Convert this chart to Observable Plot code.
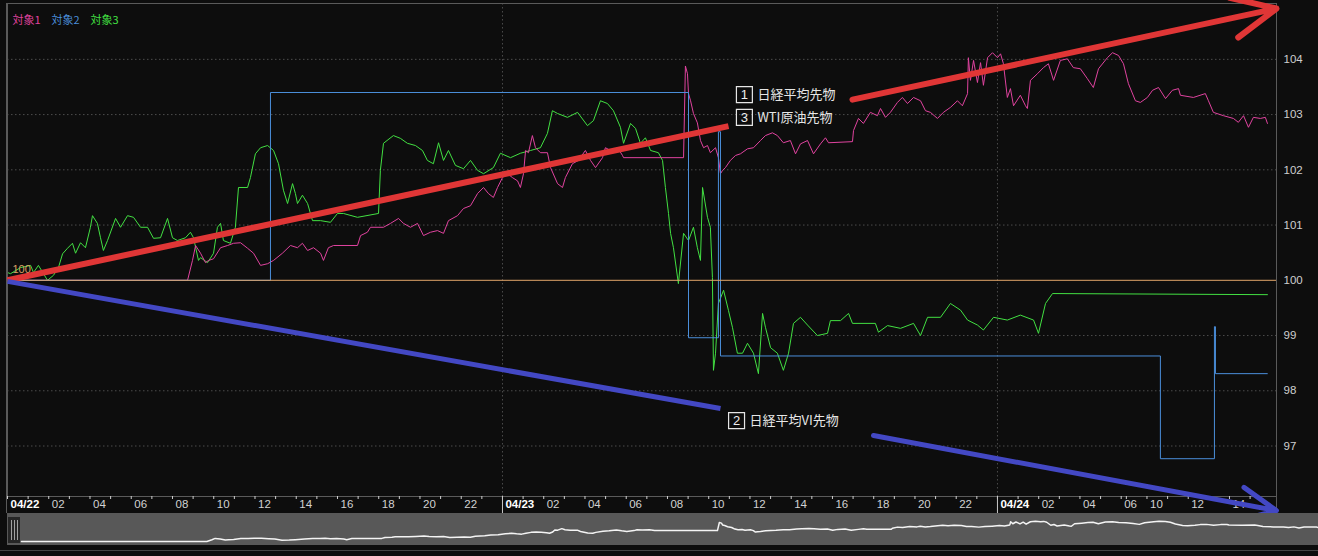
<!DOCTYPE html>
<html>
<head>
<meta charset="utf-8">
<script src="https://cdn.jsdelivr.net/npm/d3@7"></script>
<script src="https://cdn.jsdelivr.net/npm/@observablehq/plot@0.6"></script>
<style>
  html, body { margin: 0; padding: 0; background: #0d0d0d; }
  #wrap { position: relative; width: 1318px; height: 556px; background: #0d0d0d; overflow: hidden; }
  #main { position: absolute; left: 0; top: 0; }
  #nav { position: absolute; left: 7px; top: 513px; }
  .chrome { position: absolute; background: #5a5a5a; }
  #handle { position: absolute; left: 8px; top: 517px; width: 12px; height: 26px; background: #262626; }
  #handle i { position: absolute; top: 3px; width: 1px; height: 20px; background: #a0a0a0; }
</style>
</head>
<body>
<div id="wrap">
  <div class="chrome" style="left:6px;top:3px;width:1px;height:510px;"></div>
  <div class="chrome" style="left:1276px;top:3px;width:1px;height:510px;"></div>
  <div id="main"></div>
  <div id="nav"></div>
  <div id="handle"><i style="left:3px"></i><i style="left:6px"></i><i style="left:9px"></i></div>
  <div class="chrome" style="left:0;top:550px;width:1318px;height:1px;background:#444;"></div>
</div>
<script>
// ---------- data (hours since 04/22 00:00, indexed value, base = 100) ----------
const seriesNames = ["対象1", "対象2", "対象3"];
const seriesColors = ["#e0439f", "#4b8fdb", "#42e042"];

// 対象1 : 日経平均先物
const nikkeiHours = [0,8.73,8.97,9.12,9.36,9.6,9.75,9.99,10.33,10.67,
  10.96,11.3,11.64,11.93,12.27,12.61,12.9,13.33,13.72,14.06,
  14.3,14.55,14.84,15.18,15.32,15.56,15.81,16.97,17.12,17.45,
  17.6,18.23,18.57,18.96,19.2,19.54,19.88,20.17,20.51,20.85,
  21.14,21.38,21.82,22.11,22.45,22.79,23.08,23.32,23.56,23.76,
  24.0,24.24,24.48,24.73,24.87,25.02,25.12,25.26,25.45,25.6,
  25.84,26.18,26.33,26.67,26.91,27.05,27.39,27.68,28.02,28.27,
  28.51,28.85,28.99,29.24,29.58,29.82,29.87,32.78,32.87,32.97,
  33.02,33.12,33.26,33.45,33.6,33.75,33.94,34.08,34.33,34.47,
  34.57,34.67,34.81,35.05,35.3,35.54,35.88,36.17,36.51,36.75,
  37.09,37.33,37.62,37.96,38.21,38.45,38.79,39.08,39.42,39.66,
  39.81,40.97,41.02,41.26,41.5,41.84,42.18,42.33,42.57,42.81,
  43.15,43.39,43.64,43.93,44.27,44.51,44.75,45.09,45.38,45.72,
  46.06,46.3,46.55,46.59,46.69,46.84,47.03,47.18,47.32,47.52,
  47.76,48.0,48.15,48.29,48.48,48.63,48.78,49.11,49.36,49.45,
  49.6,49.94,50.23,50.47,50.72,51.05,51.39,51.68,52.02,52.36,
  52.65,52.9,53.33,53.58,53.87,56.86,57.1,57.44,57.68,58.02,
  58.27,58.56,58.9,59.23,59.53,59.62,60.25,60.83,60.98,61.22,
  61.71,62.19,62.43,62.68,62.92,63.16,63.5,63.74,63.84];
const nikkeiValues = [100.0,100.0,100.36,100.63,100.49,100.32,100.36,100.39,100.59,100.63,
  100.67,100.68,100.58,100.49,100.27,100.30,100.36,100.49,100.63,100.59,
  100.67,100.54,100.59,100.49,100.36,100.59,100.63,100.63,100.81,100.87,
  100.96,100.96,101.03,101.12,101.03,100.96,101.03,100.81,100.87,100.90,
  100.85,101.08,101.17,101.30,101.35,101.57,101.68,101.57,101.50,101.68,
  101.86,101.93,101.86,101.80,101.68,101.93,102.35,102.31,102.62,102.40,
  102.31,102.31,102.04,101.75,101.68,101.86,102.11,102.17,102.35,102.17,
  102.04,102.22,102.40,102.35,102.40,102.26,102.22,102.22,103.88,103.74,
  103.38,103.25,103.02,102.85,102.53,102.40,102.44,102.31,102.40,102.22,
  101.93,101.99,102.04,102.17,102.26,102.29,102.38,102.40,102.53,102.62,
  102.67,102.62,102.49,102.53,102.29,102.47,102.53,102.29,102.47,102.58,
  102.49,102.51,102.71,102.93,102.84,103.04,102.98,103.11,102.95,103.04,
  103.22,103.31,103.20,103.31,103.25,103.07,103.04,102.93,103.04,103.13,
  103.25,103.16,103.38,104.03,103.62,103.98,103.58,103.94,103.53,104.03,
  104.12,104.03,104.10,103.92,103.31,103.47,103.16,103.35,103.16,103.11,
  103.62,103.74,103.85,103.92,103.62,103.98,104.01,103.85,103.83,103.65,
  103.49,103.83,104.03,104.12,104.07,103.92,103.56,103.25,103.22,103.31,
  103.44,103.49,103.29,103.44,103.47,103.35,103.31,103.38,103.25,103.04,
  102.98,102.93,102.86,102.98,102.77,102.95,102.93,102.95,102.84];

// 対象2 : 日経平均VI先物 (step)
const viHours  = [0, 12.75, 33.02, 34.47, 34.57, 58.65, 61.27, 61.32, 63.84];
const viValues = [100.0, 103.40, 98.96, 102.69, 98.63, 96.77, 99.16, 98.31, 98.31];

// 対象3 : WTI原油先物
const wtiHours = [0,0.15,0.63,1.12,1.26,1.5,1.94,2.23,2.47,2.67,
  2.91,3.15,3.3,3.54,3.78,4.02,4.12,4.36,4.51,4.65,
  4.85,5.24,5.48,5.82,6.11,6.45,6.79,7.08,7.42,7.76,
  8.0,8.24,8.63,8.87,9.02,9.26,9.36,9.7,9.99,10.18,
  10.33,10.47,10.81,11.05,11.2,11.64,11.78,12.02,12.27,12.61,
  12.9,13.14,13.38,13.58,13.82,13.96,14.06,14.3,14.55,14.79,
  15.18,15.66,16.0,16.29,16.97,17.99,18.08,18.23,18.71,19.05,
  19.39,19.78,20.12,20.36,20.65,20.9,21.14,21.38,21.72,22.11,
  22.45,22.79,23.08,23.56,23.9,24.39,24.87,25.36,25.84,26.18,
  26.42,26.67,27.15,27.64,28.12,28.41,28.75,29.09,29.38,29.72,
  29.87,30.21,30.45,30.69,30.93,31.18,31.56,31.76,31.9,32.05,
  32.15,32.29,32.53,32.78,33.02,33.26,33.45,33.6,33.7,33.94,
  34.08,34.18,34.23,34.33,34.47,34.72,34.96,35.15,35.39,35.64,
  35.88,36.17,36.41,36.61,36.75,37.0,37.33,37.62,37.87,38.11,
  38.45,38.79,39.27,39.76,39.9,40.39,40.78,40.97,42.08,42.23,
  42.67,43.3,43.93,44.27,44.61,45.24,45.72,46.21,46.55,47.03,
  47.32,47.81,48.48,49.11,49.75,49.99,50.33,50.67,63.84];
const wtiValues = [100.14,100.12,100.23,100.27,100.14,100.27,100.00,100.09,100.23,100.48,
  100.58,100.67,100.49,100.68,100.59,100.96,101.17,101.03,100.77,100.54,
  100.72,101.12,100.96,101.17,101.14,100.96,100.96,100.76,100.77,101.12,
  100.77,100.72,100.77,100.87,100.77,100.36,100.41,100.32,100.49,100.96,
  101.03,100.72,100.67,100.96,101.68,101.68,101.86,102.29,102.40,102.44,
  102.35,102.11,101.63,101.39,101.75,101.57,101.39,101.54,101.39,101.08,
  101.08,101.05,101.21,101.21,101.14,101.21,101.99,102.48,102.62,102.57,
  102.48,102.44,102.35,102.17,102.11,102.49,102.17,102.35,102.08,102.02,
  102.17,101.99,101.93,102.04,102.30,102.22,102.30,102.35,102.40,102.66,
  103.07,103.02,102.95,103.04,102.80,102.89,103.25,103.20,103.07,102.77,
  102.48,102.84,102.75,102.48,102.58,102.35,102.31,102.17,101.68,101.21,
  100.85,100.59,99.94,100.85,100.72,100.96,100.59,100.36,101.68,101.14,
  100.96,100.05,98.37,98.68,99.58,99.82,99.45,99.15,98.68,98.68,
  98.86,98.68,98.31,99.40,99.15,98.78,98.68,98.37,98.68,99.22,
  99.33,99.19,99.00,99.04,99.27,99.27,99.40,99.22,99.22,99.06,
  99.18,99.13,99.22,99.00,99.33,99.33,99.58,99.46,99.28,99.19,
  99.10,99.33,99.28,99.37,99.28,99.04,99.58,99.76,99.74];

// axes
const yTicks = [97, 98, 99, 100, 101, 102, 103, 104];
const baseValue = 100;
const dayHours = [24, 48];
const tickHours = [0,2,4,6,8,10,12,14,16,18,20,22,24,26,28,30,32,34,36,38,40,42,44,46,48,50,52,54,58,60,62];
const tickLabels = ["04/22","02","04","06","08","10","12","14","16","18","20","22",
  "04/23","02","04","06","08","10","12","14","16","18","20","22",
  "04/24","02","04","06","10","12","14"];
const hourTickHours = [0,1,2,3,4,5,6,7,8,9,10,11,12,13,14,15,16,17,18,19,20,21,22,23,24,25,26,27,28,29,30,31,32,33,34,35,36,37,38,39,40,41,42,43,44,45,46,47,48,49,50,51,52,53,54,57,58,59,60,61,62,63];

// annotations (drawn by the author on the chart)
const annotNums   = ["1", "3", "2"];
const annotLabels = ["日経平均先物", "WTI原油先物", "日経平均VI先物"];
const annotHours  = [35.73, 35.73, 35.35];
const annotValues = [103.36, 102.95, 97.46];
const redArrowHours   = [0, 34.96, 40.97, 64.28];
const redArrowValues  = [100.0, 102.79, 103.27, 104.92];
const blueArrowHours  = [0, 34.57, 41.99, 64.28];
const blueArrowValues = [99.98, 97.68, 97.19, 95.83];

// ---------- helpers ----------
// 04/24 06:00–08:45 (trading break) is collapsed on the axis
const gapStart = 54, gapLen = 2.75;
function chartHour(h) { return h <= gapStart ? h : (h >= gapStart + gapLen ? h - gapLen : gapStart); }
const toRows = (hs, vs) => hs.map((h, i) => ({t: chartHour(h), v: vs[i]}));
const nikkei = toRows(nikkeiHours, nikkeiValues);
const vi = toRows(viHours, viValues);
const wti = toRows(wtiHours, wtiValues);

const ticks = tickHours.map((h, i) => ({t: chartHour(h), label: tickLabels[i], day: tickLabels[i].includes("/")}));
const annots = annotNums.map((n, i) => ({num: n, label: annotLabels[i], t: chartHour(annotHours[i]), v: annotValues[i]}));
const seg = (hs, vs, a, b) => [{x1: chartHour(hs[a]), y1: vs[a], x2: chartHour(hs[b]), y2: vs[b]}];

const grid = {stroke: "#4c4c4c", strokeDasharray: "1.5,2.5"};
const cjk = "Noto Sans CJK JP, sans-serif";
const latin = "Liberation Sans, Arial, sans-serif";

const main = Plot.plot({
  width: 1318, height: 513,
  marginLeft: 7, marginRight: 42, marginTop: 3, marginBottom: 17,
  style: {background: "transparent", color: "#cfcfcf", fontFamily: latin, fontSize: "11.5px", overflow: "visible"},
  x: {domain: [0, 61.53]},
  y: {domain: [96.086, 105.011]},
  marks: [
    Plot.ruleY(yTicks.filter(v => v !== baseValue), grid),
    Plot.ruleX(dayHours.map(chartHour), grid),
    Plot.line(wti, {x: "t", y: "v", stroke: seriesColors[2], strokeWidth: 1}),
    Plot.line(nikkei, {x: "t", y: "v", stroke: seriesColors[0], strokeWidth: 1}),
    Plot.line(vi, {x: "t", y: "v", curve: "step-after", stroke: seriesColors[1], strokeWidth: 1}),
    Plot.ruleY([baseValue], {stroke: "#e2a66a"}),
    Plot.text([baseValue], {y: d => d, text: d => String(d), frameAnchor: "left", dx: 5, dy: -11, textAnchor: "start", fill: "#d9a066", fontSize: 11}),
    Plot.frame({stroke: "#5a5a5a"}),
    Plot.axisY(yTicks, {anchor: "right", tickSize: 0, tickPadding: 7, label: null, fontSize: 11.5, tickFormat: d => String(d)}),
    Plot.axisX(hourTickHours.map(chartHour), {anchor: "bottom", tickSize: 3, tickFormat: () => "", label: null, stroke: "#cfcfcf"}),
    Plot.axisX(dayHours.map(chartHour), {anchor: "bottom", tickSize: 17, tickFormat: () => "", label: null, stroke: "#c8c8c8"}),
    Plot.text(ticks.filter(d => !d.day), {x: "t", text: "label", frameAnchor: "bottom", dx: 3, dy: 11, textAnchor: "start", fill: "#d2d2d2", fontSize: 11.5}),
    Plot.text(ticks.filter(d => d.day), {x: "t", text: "label", frameAnchor: "bottom", dx: 3, dy: 11, textAnchor: "start", fill: "#ffffff", fontSize: 11.5, fontWeight: "bold"}),
    ...seriesNames.map((name, i) => Plot.text([name], {text: d => d, frameAnchor: "top-left", dx: 5 + 39 * i, dy: 13, textAnchor: "start", fill: seriesColors[i], fontSize: 11, fontFamily: cjk})),
    Plot.link(seg(redArrowHours, redArrowValues, 0, 1), {x1: "x1", y1: "y1", x2: "x2", y2: "y2", stroke: "#e03636", strokeWidth: 6}),
    Plot.arrow(seg(redArrowHours, redArrowValues, 2, 3), {x1: "x1", y1: "y1", x2: "x2", y2: "y2", stroke: "#e03636", strokeWidth: 6, headLength: 12, headAngle: 50}),
    Plot.link(seg(blueArrowHours, blueArrowValues, 0, 1), {x1: "x1", y1: "y1", x2: "x2", y2: "y2", stroke: "#4348c4", strokeWidth: 5}),
    Plot.arrow(seg(blueArrowHours, blueArrowValues, 2, 3), {x1: "x1", y1: "y1", x2: "x2", y2: "y2", stroke: "#4348c4", strokeWidth: 5, headLength: 12, headAngle: 50}),
    Plot.dot(annots, {x: "t", y: "v", symbol: "square", r: 9, stroke: "#e6e6e6", fill: "none", strokeWidth: 1.2}),
    Plot.text(annots, {x: "t", y: "v", text: "num", fill: "#eeeeee", fontSize: 13, fontFamily: latin}),
    Plot.text(annots, {x: "t", y: "v", text: "label", dx: 13, textAnchor: "start", fill: "#e6e6e6", fontSize: 13, fontFamily: cjk})
  ]
});
document.getElementById("main").appendChild(main);

const nav = Plot.plot({
  width: 1311, height: 32,
  marginLeft: 14, marginRight: 0, marginTop: 0, marginBottom: 0,
  style: {background: "#585858"},
  x: {domain: [0, chartHour(nikkeiHours[nikkeiHours.length - 1])], axis: null},
  y: {domain: [99.18, 105.71], axis: null},
  marks: [
    Plot.line(nikkei, {x: "t", y: "v", stroke: "#f4f4f4", strokeWidth: 1.5})
  ]
});
document.getElementById("nav").appendChild(nav);
</script>
</body>
</html>
